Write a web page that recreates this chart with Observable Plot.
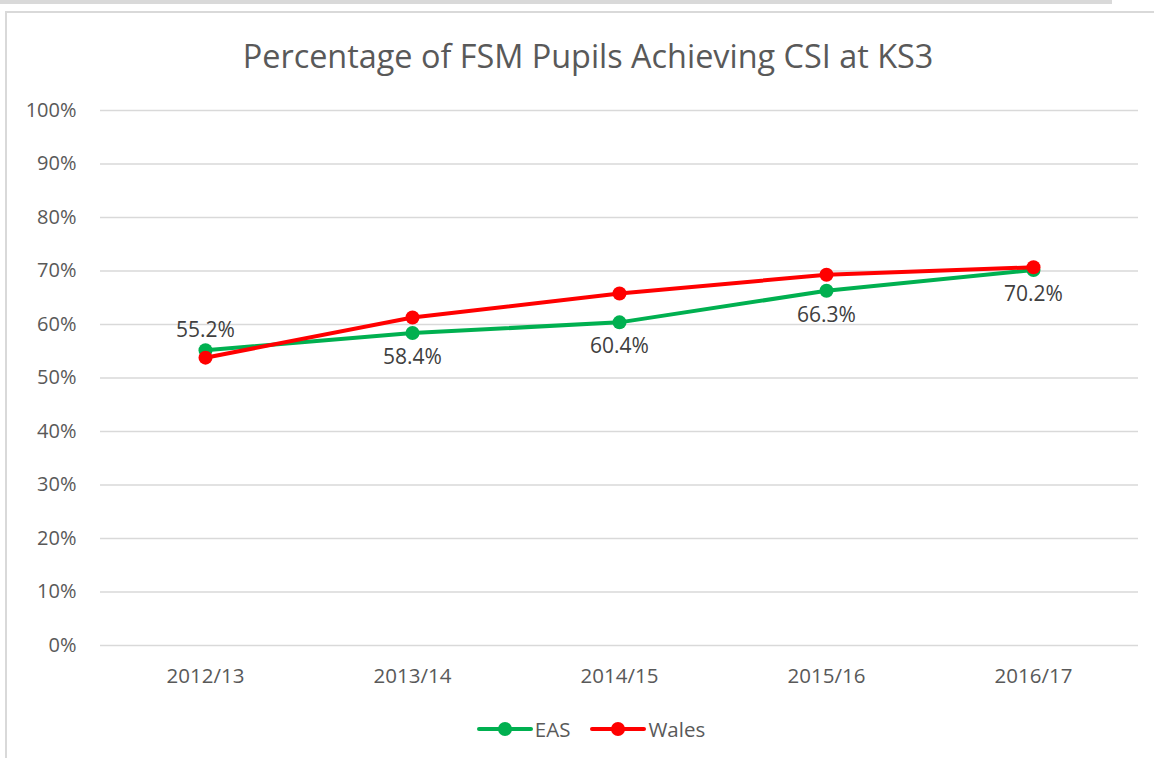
<!DOCTYPE html>
<html>
<head>
<meta charset="utf-8">
<script src="https://cdn.jsdelivr.net/npm/d3@7"></script>
<script src="https://cdn.jsdelivr.net/npm/@observablehq/plot@0.6"></script>
<style>
  html, body { margin: 0; padding: 0; background: #fff; }
  #wrap { position: relative; width: 1154px; height: 758px; overflow: hidden; font-family: "Open Sans", Lato, sans-serif; }
  #topbar { position: absolute; left: 0; top: 0; width: 1112px; height: 4px; background: #d9d9d9; }
  #frame { position: absolute; left: 5px; top: 11px; width: 1200px; height: 800px; border: 2px solid #d9d9d9; box-sizing: border-box; }
  #title { position: absolute; left: 0; width: 1176px; top: 33px; text-align: center; font-size: 32.4px; color: #595959; line-height: 44px; }
  #chart { position: absolute; left: 0; top: 0; }
  #legend { position: absolute; top: 714px; left: 0; width: 1182px; display: flex; justify-content: center; gap: 20px; font-size: 20.5px; color: #595959; line-height: 30px; }
  .item { display: flex; align-items: center; gap: 2px; }
</style>
</head>
<body>
<div id="wrap">
  <div id="topbar"></div>
  <div id="frame"></div>
  <div id="chart"></div>
  <div id="title">Percentage of FSM Pupils Achieving CSI at KS3</div>
  <div id="legend"></div>
</div>
<script>
const years = ["2012/13", "2013/14", "2014/15", "2015/16", "2016/17"];
const eas = [55.2, 58.4, 60.4, 66.3, 70.2];
const wales = [53.8, 61.3, 65.8, 69.3, 70.7];
const seriesNames = ["EAS", "Wales"];
const seriesColors = ["#00b050", "#ff0000"];
const yTicks = [0, 10, 20, 30, 40, 50, 60, 70, 80, 90, 100];

const rows = [];
years.forEach((y, i) => {
  rows.push({year: y, series: "EAS", value: eas[i]});
});
years.forEach((y, i) => {
  rows.push({year: y, series: "Wales", value: wales[i]});
});
const easRows = rows.filter(d => d.series === "EAS");
const walesRows = rows.filter(d => d.series === "Wales");
const above = easRows.filter((d, i) => eas[i] > wales[i]);
const below = easRows.filter((d, i) => !(eas[i] > wales[i]));

const chart = Plot.plot({
  width: 1154,
  height: 758,
  marginLeft: 100,
  marginRight: 16,
  marginTop: 110,
  marginBottom: 113,
  style: {fontFamily: "'Open Sans', Lato, sans-serif", fontSize: "20px", color: "#595959", background: "transparent"},
  x: {domain: years, type: "point", inset: 0, padding: 0.5, label: null},
  y: {domain: [0, 100], label: null},
  color: {domain: seriesNames, range: seriesColors},
  marks: [
    Plot.gridY(yTicks, {stroke: "#d9d9d9", strokeOpacity: 1, strokeWidth: 1.5}),
    Plot.axisY(yTicks, {tickSize: 0, tickPadding: 24, tickFormat: d => d + "%", fill: "#595959", fontSize: 20}),
    Plot.axisX({tickSize: 0, tickPadding: 23, fill: "#595959", fontSize: 20.5}),
    Plot.line(easRows, {x: "year", y: "value", stroke: "series", strokeWidth: 4}),
    Plot.dot(easRows, {x: "year", y: "value", fill: "series", r: 7}),
    Plot.line(walesRows, {x: "year", y: "value", stroke: "series", strokeWidth: 4}),
    Plot.dot(walesRows, {x: "year", y: "value", fill: "series", r: 7}),
    Plot.text(above, {x: "year", y: "value", text: d => d.value.toFixed(1) + "%", dy: -20, fill: "#404040", fontSize: 21}),
    Plot.text(below, {x: "year", y: "value", text: d => d.value.toFixed(1) + "%", dy: 24, fill: "#404040", fontSize: 21})
  ]
});
document.getElementById("chart").appendChild(chart);

const legend = document.getElementById("legend");
seriesNames.forEach((name, i) => {
  const item = document.createElement("div");
  item.className = "item";
  item.innerHTML = `<svg width="56" height="16"><line x1="2" y1="8" x2="54" y2="8" stroke="${seriesColors[i]}" stroke-width="4" stroke-linecap="round"/><circle cx="28" cy="8" r="7" fill="${seriesColors[i]}"/></svg><span>${name}</span>`;
  legend.appendChild(item);
});
</script>
</body>
</html>
